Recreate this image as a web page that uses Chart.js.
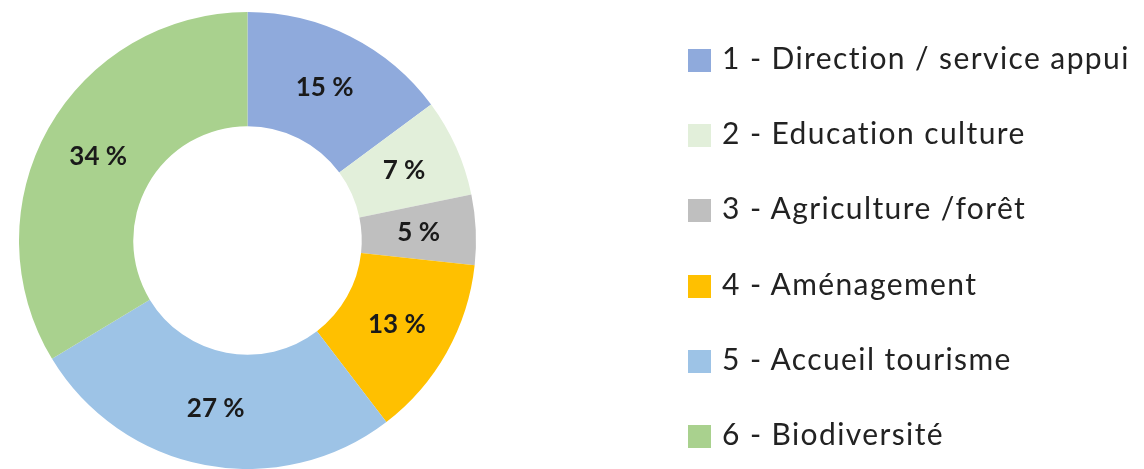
<!DOCTYPE html>
<html>
<head>
<meta charset="utf-8">
<script src="https://cdn.jsdelivr.net/npm/chart.js"></script>
<style>
  html,body{margin:0;padding:0;background:#fff}
  #wrap{position:relative;width:1144px;height:469px}
  #legend{position:absolute;left:688px;top:0;margin:0;padding:0;list-style:none;font-family:Lato,"Noto Sans",sans-serif;font-size:30px;color:#222;letter-spacing:1.4px}
  #legend li{position:absolute;left:0;white-space:nowrap;height:30px;line-height:30px}
  #legend span.box{position:absolute;left:0;top:7px;width:23px;height:23px}
  #legend span.txt{position:absolute;left:34px;top:0}
</style>
</head>
<body>
<div id="wrap">
  <canvas id="canvas" width="1144" height="469"></canvas>
  <ul id="legend"></ul>
</div>
<script>
const categories = [
  "1 - Direction / service appui",
  "2 - Education culture",
  "3 - Agriculture /forêt",
  "4 - Aménagement",
  "5 - Accueil tourisme",
  "6 - Biodiversité"
];
const shares = [15, 7, 5, 13, 27, 34];
const colors = ["#8faadc", "#e2efda", "#bfbfbf", "#ffc000", "#9dc3e6", "#a9d18e"];

// percentage labels on the ring
const sliceLabels = {
  id: 'sliceLabels',
  afterDatasetsDraw(chart) {
    let ctx = chart.ctx;
    let meta = chart.getDatasetMeta(0);
    ctx.save();
    ctx.font = 'bold 26px Lato, "Noto Sans", sans-serif';
    ctx.fillStyle = '#1a1a1a';
    ctx.textAlign = 'center';
    ctx.textBaseline = 'middle';
    meta.data.forEach((arc, i) => {
      let p = arc.getCenterPoint();
      ctx.fillText(shares[i] + ' %', p.x, p.y);
    });
    ctx.restore();
  }
};

new Chart(document.getElementById('canvas'), {
  type: 'doughnut',
  data: {
    labels: categories,
    datasets: [{data: shares, backgroundColor: colors, borderWidth: 0}]
  },
  options: {
    responsive: false,
    animation: false,
    cutout: '50%',
    layout: {padding: {left: 17, right: 666, top: 12, bottom: 0}},
    plugins: {legend: {display: false}, tooltip: {enabled: false}}
  },
  plugins: [sliceLabels]
});

// legend built from the same arrays
let legend = document.getElementById('legend');
categories.forEach((name, i) => {
  let li = document.createElement('li');
  li.style.top = (42 + i * 75.2) + 'px';
  li.innerHTML = `<span class="box" style="background:${colors[i]}"></span><span class="txt">${name}</span>`;
  legend.appendChild(li);
});
</script>
</body>
</html>
